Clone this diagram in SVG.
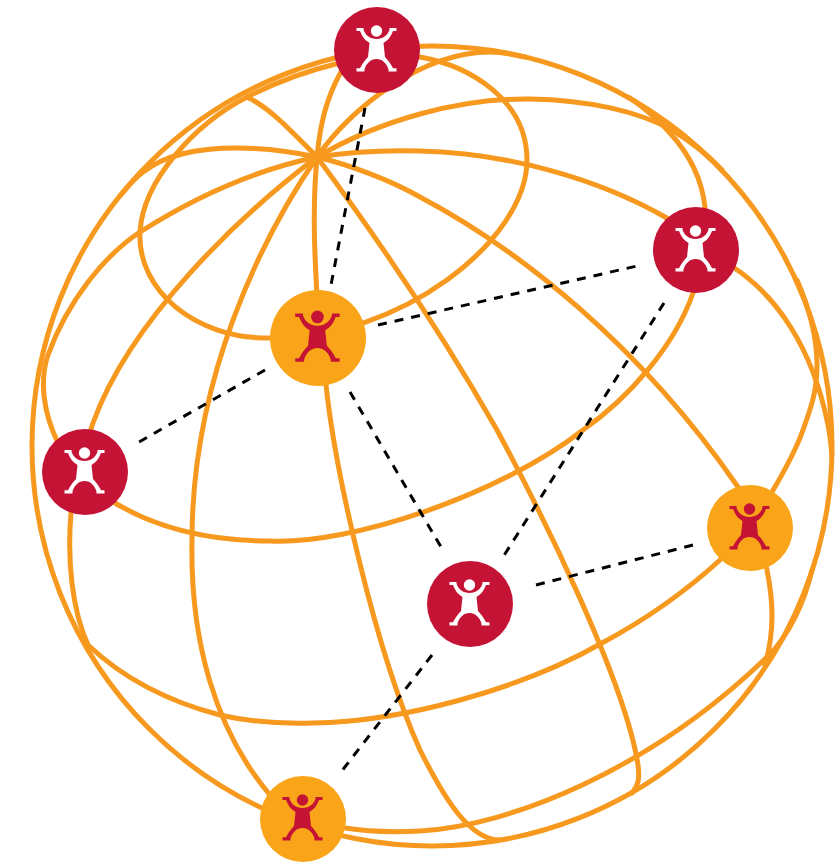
<svg xmlns="http://www.w3.org/2000/svg" width="837" height="864" viewBox="0 0 837 864">
<style>
.globe{fill:none;stroke:#F7991E;stroke-width:5;stroke-linecap:round;stroke-linejoin:round}
.link{fill:none;stroke:#000;stroke-width:3;stroke-dasharray:9 8}
.red{fill:#C41335}
.amber{fill:#FAA519}
.on-red{fill:#fff}
.on-amber{fill:#C41335}
</style>
<defs>
<g id="person">
<circle cx="-0.5" cy="-19" r="5.7"/>
<path d="M-20.5,-22 H-13.5 V-20.5 C-12,-15 -7,-11 -0.5,-11 C6,-11 11,-15 12.5,-20.5 V-22 H19.5 V-19 H16 C14,-13.5 11,-9.5 6.5,-7 L8,7 C11,10 14,14 16,18.3 H19.5 V21.5 H11.5 V19.5 C10,14 5.5,9 -0.5,9 C-6.5,9 -11,14 -12.5,19.5 V21.5 H-20.5 V18.3 H-17 C-15,14 -12,10 -9,7 L-7.5,-7 C-12,-9.5 -15,-13.5 -17,-19 H-20.5 Z"/>
</g>
</defs>
<g id="connectors">
<g id="globe-lines" class="globe">
<circle cx="432" cy="446" r="400"/>
<path d="M140,232 C137,290 195,339 270,338 C400,340 527,240 527,160 C527,100 470,66 420,57 C370,50 300,70 247,97 C195,124 143,180 140,232 Z"/>
<path d="M317,157 C255,170 195,197 140,232 C105,255 68,300 48,355 C40,378 42,410 58,443 C65,458 85,487 115,503 C160,530 215,541 270,541 C350,545 500,495 583,430 C630,397 675,345 693,293 C700,270 707,235 705,207 C702,180 690,155 670,133 C662,124 650,112 630,98"/>
<path d="M317,157 C240,215 130,320 93,423 C85,445 75,480 71,513 C67,560 72,610 88,645 C125,680 170,702 220,715 C250,722 280,724 313,723 C400,722 520,690 602,643 C645,620 685,592 720,560 C730,550 755,515 772,492 C785,470 796,450 803,430 C812,405 817,390 817,365 C817,340 811,312 797,280"/>
<path d="M317,157 C380,120 460,98 530,99 C590,100 640,112 672,130 C690,141 705,152 722,170"/>
<path d="M317,157 C350,152 390,150 420,151 C510,153 600,180 665,217 C690,232 710,250 733,267 C775,295 812,345 828,425 C830,435 831,445 832,455"/>
<path d="M317,157 C350,165 390,180 420,197 C520,250 640,345 738,487 C750,510 762,545 767,570 C773,600 775,630 765,665"/>
<path d="M317,157 C312,210 315,260 317,295 C320,340 322,360 326,385 C335,470 375,650 420,750 C445,800 470,840 500,840"/>
<path d="M317,157 C260,240 192,380 192,540 C190,640 215,730 270,795"/>
<path d="M317,157 C375,235 440,330 497,430 C540,510 625,680 638,765 C640,780 638,785 632,793"/>
<path d="M317,157 C320,125 326,98 342,70"/>
<path d="M317,157 C350,110 420,52 490,52 C505,52 515,55 525,57"/>
<path d="M317,157 C290,130 270,108 247,97"/>
<path d="M317,157 C290,151 265,148 237,148 C195,148 165,155 143,172 C135,178 128,186 120,196"/>
<path d="M303,825 L345,828 C370,832 400,832 420,831 C510,826 650,770 767,657 C790,635 805,600 812,570"/>
</g>
<g id="dashed-links" class="link">
<path d="M365,108 L331,285"/>
<path d="M378,325 L637,266"/>
<path d="M265,370 L139,442"/>
<path d="M350,392 L441,547"/>
<path d="M664,303 L503,557"/>
<path d="M536,585 L693,545"/>
<path d="M432,655 L341,772"/>
</g>
</g>
<g id="node-top"><circle class="red" cx="377" cy="50" r="43"/><use href="#person" class="on-red" transform="translate(377,50)"/></g>
<g id="node-right"><circle class="red" cx="696" cy="250" r="43"/><use href="#person" class="on-red" transform="translate(696,250)"/></g>
<g id="node-left"><circle class="red" cx="85" cy="472" r="43"/><use href="#person" class="on-red" transform="translate(85,472)"/></g>
<g id="node-middle"><circle class="red" cx="470" cy="604" r="43"/><use href="#person" class="on-red" transform="translate(470,604)"/></g>
<g id="node-center"><circle class="amber" cx="318" cy="338" r="48"/><use href="#person" class="on-amber" transform="translate(318,338) scale(1.11)"/></g>
<g id="node-east"><circle class="amber" cx="750" cy="528" r="43"/><use href="#person" class="on-amber" transform="translate(750,528)"/></g>
<g id="node-bottom"><circle class="amber" cx="303" cy="819" r="43"/><use href="#person" class="on-amber" transform="translate(303,819)"/></g>
</svg>
